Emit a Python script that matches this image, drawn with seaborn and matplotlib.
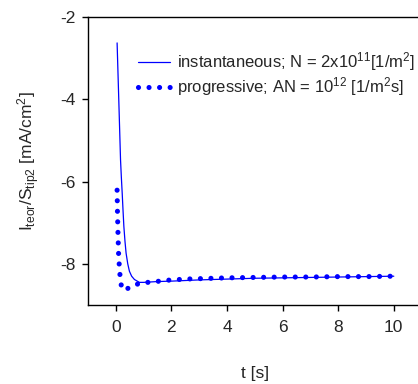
import matplotlib
matplotlib.use("Agg")
import matplotlib.pyplot as plt
import seaborn as sns
import pandas as pd

sns.set_style("ticks")
plt.rcParams['font.family'] = ['Liberation Sans', 'DejaVu Sans']
plt.rcParams['axes.unicode_minus'] = False
plt.rcParams['mathtext.fontset'] = 'custom'
plt.rcParams['mathtext.rm'] = 'Liberation Sans'
plt.rcParams['mathtext.it'] = 'Liberation Sans'

# instantaneous nucleation
t_inst = [0.047, 0.08, 0.12, 0.17, 0.20, 0.23, 0.26, 0.29, 0.33, 0.37, 0.43, 0.49, 0.57,
          0.67, 0.85, 1.0, 1.5, 2.0, 3.0, 4.0, 5.0, 6.0, 7.0, 8.0, 9.0, 10.0]
y_inst = [-2.63, -3.39, -4.31, -5.47, -5.90, -6.28, -6.70, -7.09, -7.45, -7.74, -8.00, -8.18, -8.30,
          -8.38, -8.45, -8.45, -8.43, -8.42, -8.39, -8.37, -8.35, -8.34, -8.33, -8.32, -8.31, -8.30]

# progressive nucleation
t_prog = [0.047, 0.06, 0.08, 0.10, 0.13, 0.16, 0.19, 0.23, 0.29, 0.40, 0.55, 0.83, 1.15, 1.45,
          1.82, 2.5, 3.0, 4.0, 5.0, 6.0, 7.0, 8.0, 9.0, 10.0]
y_prog = [-6.21, -6.75, -7.3, -7.75, -8.1, -8.35, -8.50, -8.60, -8.64, -8.61, -8.55, -8.48, -8.45, -8.43,
          -8.40, -8.37, -8.36, -8.34, -8.33, -8.32, -8.32, -8.31, -8.31, -8.30]

lab_inst = r"instantaneous; N = 2x10$^{11}$[1/m$^2$]"
lab_prog = r"progressive; AN = 10$^{12}$ [1/m$^2$s]"

df_i = pd.DataFrame({"t": t_inst, "y": y_inst})
df_p = pd.DataFrame({"t": t_prog, "y": y_prog})

fig = plt.figure(figsize=(4.18, 3.84), dpi=100)
ax = fig.add_axes([88/418, 1 - 305/384, 333.6/418, 288/384])

sns.lineplot(data=df_i, x="t", y="y", ax=ax, color="#0000ff", lw=0.9,
             label=lab_inst, estimator=None, sort=False)
sns.lineplot(data=df_p, x="t", y="y", ax=ax, color="#0000ff", lw=3.7,
             linestyle=(0, (0.001, 2.05)),
             label=lab_prog, estimator=None, sort=False)
for ln in ax.get_lines():
    if ln.get_linewidth() > 2:
        ln.set_dash_capstyle('round')

ax.set_xlim(-1, 11)
ax.set_ylim(-9, -2)
ax.set_xticks([0, 2, 4, 6, 8, 10])
ax.set_yticks([-2, -4, -6, -8])
ax.tick_params(axis='both', labelsize=12.5, length=4, width=1, color='black')
ax.tick_params(axis='x', pad=7)
ax.tick_params(axis='y', pad=5)
for s in ax.spines.values():
    s.set_color('black')
    s.set_linewidth(1)

ax.set_xlabel("t [s]", fontsize=12.5, labelpad=22)
ax.set_ylabel(r"I$_{teor}$/S$_{tip2}$ [mA/cm$^2$]", fontsize=12.5, labelpad=13)

leg = ax.legend(loc='upper left', bbox_to_anchor=(0.15, 0.884), frameon=False,
                fontsize=12.0, handlelength=1.9, handletextpad=0.45, labelspacing=0.12,
                borderaxespad=0, borderpad=0)
for h in leg.legend_handles:
    if h.get_linewidth() > 2:
        h.set_dash_capstyle('round')

fig.savefig("out.png", dpi=100)
